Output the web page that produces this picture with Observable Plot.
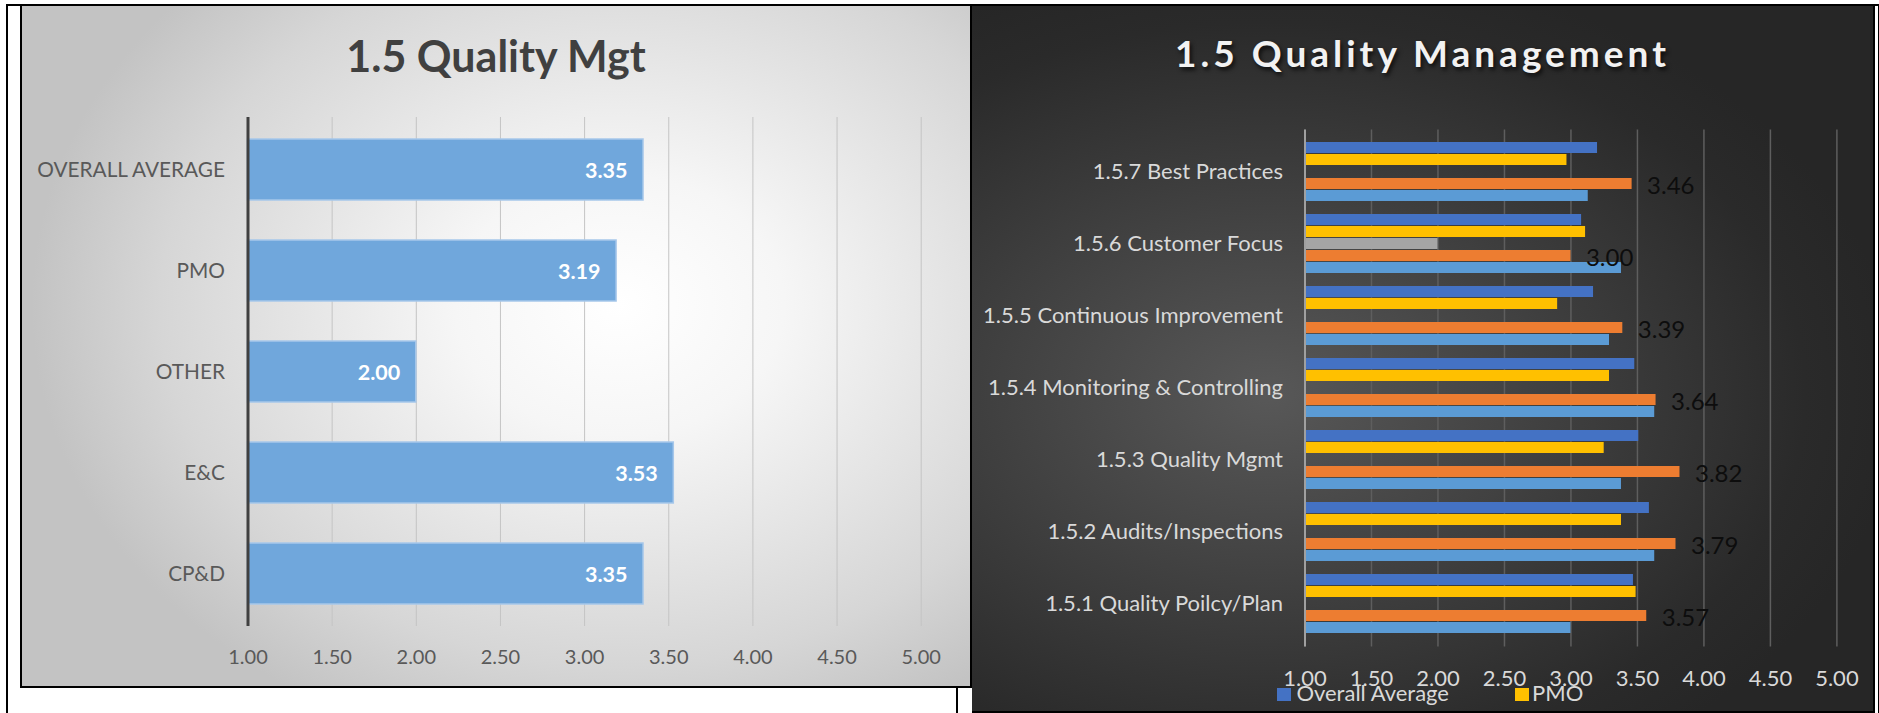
<!DOCTYPE html>
<html>
<head>
<meta charset="utf-8">
<script src="https://cdn.jsdelivr.net/npm/d3@7"></script>
<script src="https://cdn.jsdelivr.net/npm/@observablehq/plot@0.6"></script>
<style>
  html, body { margin: 0; padding: 0; background: #ffffff; }
  body { width: 1879px; height: 713px; position: relative; overflow: hidden; font-family: Lato, "Open Sans", sans-serif; }
  .ln { position: absolute; background: #000; }
  #leftPanel {
    position: absolute; left: 20px; top: 6px; width: 948px; height: 680px;
    border-left: 2px solid #000; border-right: 2px solid #000; border-bottom: 2px solid #000;
    background: radial-gradient(ellipse 62% 68% at 63% 44%, #ffffff 0%, #f6f6f6 28%, #d6d6d6 78%, #c3c3c3 100%);
    overflow: hidden;
  }
  #rightPanel {
    position: absolute; left: 972px; top: 6px; width: 901px; height: 705px;
    border-right: 2px solid #000; border-bottom: 2px solid #000;
    background: radial-gradient(ellipse 70% 62% at 33% 55%, #585858 0%, #3d3d3d 50%, #2a2a2a 85%, #262626 100%);
    overflow: hidden;
  }
  .title { position: absolute; left: 0; width: 100%; text-align: center; font-weight: bold; line-height: 1; white-space: nowrap; }
  #leftTitle { top: 28px; font-size: 43px; color: #404040; }
  #rightTitle { top: 28px; font-size: 37px; color: #f2f2f2; letter-spacing: 4px; text-shadow: 2px 3px 4px rgba(0,0,0,0.7); }
  .chart { position: absolute; left: 0; }
  #leftChart { top: 90px; }
  #rightChart { top: 100px; }
  #legend { position: absolute; left: 0; top: 0; width: 100%; height: 100%; pointer-events: none; }
  .lg-sw { position: absolute; width: 13.5px; height: 13.5px; }
  .lg-tx { position: absolute; font-size: 22px; line-height: 1; color: #d9d9d9; white-space: nowrap; }
</style>
</head>
<body>
<div class="ln" style="left:6px;top:4px;width:2px;height:709px"></div>
<div class="ln" style="left:6px;top:4px;width:1873px;height:2px"></div>
<div class="ln" style="left:956px;top:688px;width:2px;height:25px"></div>
<div class="ln" style="left:1878px;top:4px;width:1px;height:709px"></div>

<div id="leftPanel">
  <div class="title" id="leftTitle">1.5 Quality Mgt</div>
  <div class="chart" id="leftChart"></div>
</div>
<div id="rightPanel">
  <div class="title" id="rightTitle">1.5 Quality Management</div>
  <div class="chart" id="rightChart"></div>
  <div id="legend"></div>
</div>

<script>
// ---------- data ----------
const tickValues = [1, 1.5, 2, 2.5, 3, 3.5, 4, 4.5, 5];

// Left chart: 1.5 Quality Mgt
const leftCategories = ["OVERALL AVERAGE", "PMO", "OTHER", "E&C", "CP&D"];
const leftValues = [3.35, 3.19, 2.00, 3.53, 3.35];

// Right chart: 1.5 Quality Management
const rightCategories = [
  "1.5.7 Best Practices",
  "1.5.6 Customer Focus",
  "1.5.5 Continuous Improvement",
  "1.5.4 Monitoring & Controlling",
  "1.5.3 Quality Mgmt",
  "1.5.2 Audits/Inspections",
  "1.5.1 Quality Poilcy/Plan"
];
const seriesNames = ["Overall Average", "PMO", "Other", "E&C", "CP&D"];
const overallAverage = [3.20, 3.08, 3.17, 3.48, 3.51, 3.59, 3.47];
const pmo = [2.97, 3.11, 2.90, 3.29, 3.25, 3.38, 3.49];
const other = [null, 2.00, null, null, null, null, null];
const eAndC = [3.46, 3.00, 3.39, 3.64, 3.82, 3.79, 3.57];
const cpAndD = [3.13, 3.38, 3.29, 3.63, 3.38, 3.63, 3.00];
const seriesColors = ["#4472C4", "#FFC000", "#A5A5A5", "#ED7D31", "#5B9BD5"];
const legendSeries = ["Overall Average", "PMO"];
const labeledSeries = "E&C";

// ---------- left chart ----------
const leftRows = leftCategories.map((c, i) => ({cat: c, value: leftValues[i]}));

const leftPlot = Plot.plot({
  width: 948,
  height: 590,
  marginLeft: 225.5,
  marginRight: 49.3,
  marginTop: 21,
  marginBottom: 60,
  style: {background: "transparent", fontFamily: "Lato, 'Open Sans', sans-serif", fontSize: "20px", color: "#595959"},
  x: {domain: [1, 5], ticks: tickValues, tickFormat: d => d.toFixed(2), tickSize: 0, tickPadding: 23, label: null},
  y: {domain: leftCategories, paddingInner: 0.4, paddingOuter: 0.2, tickSize: 0, tickPadding: 23, label: null},
  marks: [
    Plot.ruleX(tickValues, {stroke: "#c4c4c4", strokeWidth: 1}),
    Plot.barX(leftRows, {y: "cat", x1: d => 1, x2: "value", fill: "#70a7dc", stroke: "#a6c7ea", strokeWidth: 1.5}),
    Plot.ruleX([1], {stroke: "#404040", strokeWidth: 3}),
    Plot.text(leftRows, {y: "cat", x: "value", text: d => d.value.toFixed(2), dx: -16, dy: 1, textAnchor: "end",
      fill: "#ffffff", fontWeight: "bold", fontSize: 21.5})
  ]
});
leftPlot.querySelectorAll("g[aria-label='y-axis tick label'] text, g[aria-label='y-axis'] text").forEach(t => t.setAttribute("font-size", "20.8"));
document.getElementById("leftChart").appendChild(leftPlot);

// ---------- right chart ----------
const seriesValues = [overallAverage, pmo, other, eAndC, cpAndD];
const slotKeys = [];
rightCategories.forEach((c, i) => {
  seriesNames.forEach(s => slotKeys.push(c + "|" + s));
  if (i < rightCategories.length - 1) slotKeys.push(c + "|gap");
});
const rightRows = [];
rightCategories.forEach((c, i) => {
  seriesNames.forEach((s, j) => {
    const v = seriesValues[j][i];
    if (v != null) rightRows.push({cat: c, series: s, key: c + "|" + s, value: v});
  });
});
const colorOf = Object.fromEntries(seriesNames.map((s, j) => [s, seriesColors[j]]));

const rightPlot = Plot.plot({
  width: 901,
  height: 600,
  marginLeft: 332.5,
  marginRight: 36.6,
  marginTop: 23.5,
  marginBottom: 59.5,
  style: {background: "transparent", fontFamily: "Lato, 'Open Sans', sans-serif", fontSize: "22px", color: "#d9d9d9"},
  x: {domain: [1, 5], ticks: tickValues, tickFormat: d => d.toFixed(2), tickSize: 0, tickPadding: 23, label: null},
  y: {domain: slotKeys, paddingInner: 0.08, paddingOuter: 0.54, axis: null},
  marks: [
    Plot.ruleX(tickValues, {stroke: "#5e5e5e", strokeWidth: 1.5}),
    Plot.barX(rightRows, {y: "key", x1: d => 1, x2: "value", fill: d => colorOf[d.series]}),
    Plot.ruleX([1], {stroke: "#a0a0a0", strokeWidth: 2}),
    Plot.text(rightCategories, {y: c => c + "|Other", frameAnchor: "left", dx: -22, textAnchor: "end",
      text: d => d, fill: "#d9d9d9", fontSize: 22}),
    Plot.text(rightRows.filter(d => d.series === labeledSeries), {y: "key", x: "value", dx: 15, dy: 2,
      textAnchor: "start", text: d => d.value.toFixed(2), fill: "#0d0d0d", fontSize: 24})
  ]
});
document.getElementById("rightChart").appendChild(rightPlot);

// ---------- legend ----------
const legend = document.getElementById("legend");
const legendPos = [{sw: 305, tx: 324.4}, {sw: 543, tx: 560}];
legendSeries.forEach((s, i) => {
  const sw = document.createElement("div");
  sw.className = "lg-sw";
  sw.style.left = legendPos[i].sw + "px";
  sw.style.top = "681.6px";
  sw.style.background = colorOf[s];
  legend.appendChild(sw);
  const tx = document.createElement("div");
  tx.className = "lg-tx";
  tx.style.left = legendPos[i].tx + "px";
  tx.style.top = "676px";
  tx.textContent = s;
  legend.appendChild(tx);
});
</script>
</body>
</html>
